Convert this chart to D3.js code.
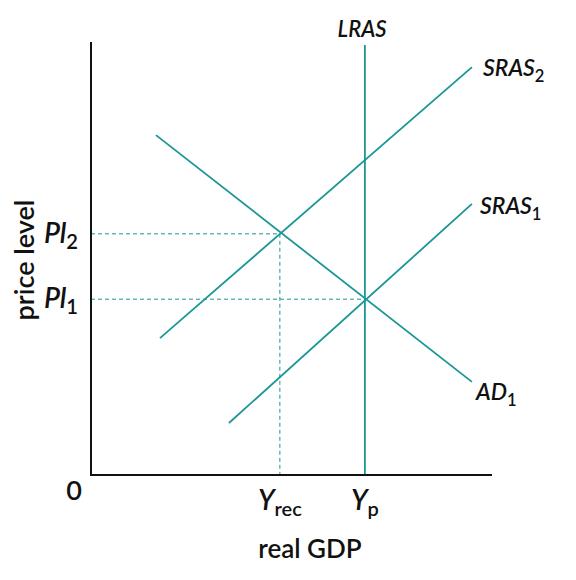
<!DOCTYPE html><html><head><meta charset="utf-8">
<script src="https://cdn.jsdelivr.net/npm/d3@7"></script>
<style>body{margin:0;background:#fff}text{font-family:Lato,"Open Sans",sans-serif;fill:#111;font-weight:600}</style></head><body>
<svg id="c" width="576" height="580"></svg>
<script>
const curves=[
 {name:"SRAS",sub:"2",pts:[[17.2,31.6],[95,94.2]]},
 {name:"SRAS",sub:"1",pts:[[34.4,12.0],[95,62.6]]},
 {name:"AD",sub:"1",pts:[[16.2,78.5],[95,21.5]]},
 {name:"LRAS",sub:"",pts:[[68.3,0],[68.3,99.3]]}
];
const priceLevels=[{lab:"Pl",sub:"2",y:55.7,x:47.1},{lab:"Pl",sub:"1",y:40.6,x:68.3}];
const outputs=[{lab:"Y",sub:"rec",x:47.1,y:55.7},{lab:"Y",sub:"p",x:68.3,y:40.6}];
const teal="#1a9696";
const svg=d3.select("#c");
const x=d3.scaleLinear().domain([0,100]).range([91,492]);
const y=d3.scaleLinear().domain([0,100]).range([475,42]);
const line=d3.line().x(d=>x(d[0])).y(d=>y(d[1]));
priceLevels.forEach(p=>svg.append("line").attr("x1",x(0)).attr("x2",x(p.x)).attr("y1",y(p.y)).attr("y2",y(p.y)).attr("stroke",teal).attr("stroke-width",1).attr("stroke-dasharray","4,3"));
svg.append("line").attr("x1",x(outputs[0].x)).attr("x2",x(outputs[0].x)).attr("y1",y(outputs[0].y)).attr("y2",y(0)).attr("stroke",teal).attr("stroke-dasharray","4,3");
curves.forEach(c=>svg.append("path").attr("d",line(c.pts)).attr("fill","none").attr("stroke",teal).attr("stroke-width",1.8));
svg.append("path").attr("d",`M${x(0)},${y(100)}V${y(0)}H${x(100)}`).attr("fill","none").attr("stroke","#111").attr("stroke-width",2);
function lab(t,px,py,main,sub,anchor,size){
 const e=svg.append("text").attr("x",px).attr("y",py).attr("text-anchor",anchor||"start").style("font-size",(size||23)+"px").style("font-style","italic");
 e.append("tspan").text(main);
 if(sub) e.append("tspan").text(sub).attr("dy",6).style("font-size",((size||23)*0.72)+"px").style("font-style","normal");
}
lab(0,483,76,"SRAS","2");
lab(0,480,214,"SRAS","1");
lab(0,476,400,"AD","1");
lab(0,362,37,"LRAS","", "middle",22);
priceLevels.forEach(p=>lab(0,44,y(p.y)+9,p.lab,p.sub,"start",28));
outputs.forEach(o=>{const e=svg.append("text").attr("x",x(o.x)).attr("y",510).attr("text-anchor","middle").style("font-size","28px");
 e.append("tspan").text(o.lab).style("font-style","italic");e.append("tspan").text(o.sub).attr("dy",6).style("font-size","20px");});
svg.append("text").attr("x",74).attr("y",500).attr("text-anchor","middle").style("font-size","27px").text("0");
svg.append("text").attr("x",310).attr("y",558).attr("text-anchor","middle").style("font-size","26px").text("real GDP");
svg.append("text").attr("transform","translate(34,260) rotate(-90)").attr("text-anchor","middle").style("font-size","27px").text("price level");
</script></body></html>
